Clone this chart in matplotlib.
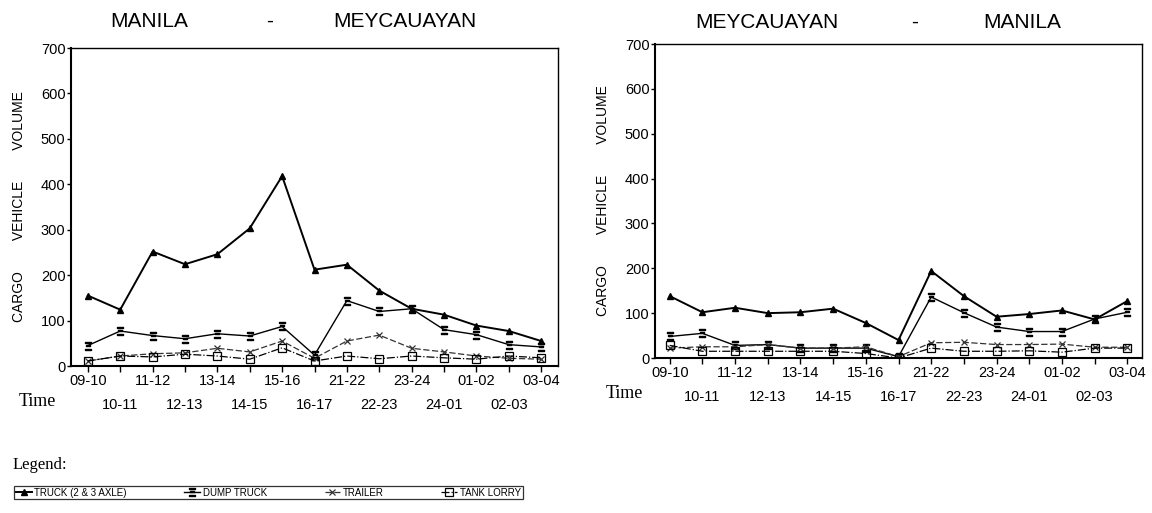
import matplotlib
matplotlib.use("Agg")
import matplotlib.pyplot as plt
from matplotlib.lines import Line2D
import numpy as np

# time periods (hour pairs)
periods = ["09-10", "10-11", "11-12", "12-13", "13-14", "14-15", "15-16", "16-17",
           "21-22", "22-23", "23-24", "24-01", "01-02", "02-03", "03-04"]

# Manila -> Meycauayan
mm_truck = [155, 124, 252, 224, 246, 303, 418, 212, 223, 166, 126, 113, 89, 77, 55]
mm_dump = [45, 77, 67, 60, 71, 66, 87, 24, 144, 120, 126, 80, 69, 47, 42]
mm_trailer = [11, 22, 27, 29, 39, 31, 55, 17, 55, 68, 39, 31, 22, 17, 15]
mm_tank = [11, 22, 20, 26, 22, 15, 40, 11, 22, 16, 22, 18, 15, 22, 18]

# Meycauayan -> Manila
ym_truck = [138, 102, 112, 100, 102, 110, 78, 40, 194, 138, 92, 98, 106, 86, 127]
ym_dump = [48, 55, 28, 30, 22, 22, 22, 3, 136, 101, 69, 59, 59, 87, 102]
ym_trailer = [22, 25, 25, 30, 22, 22, 25, 3, 34, 35, 30, 30, 31, 24, 24]
ym_tank = [28, 15, 15, 15, 15, 15, 10, 0, 22, 15, 15, 16, 13, 22, 22]

legend_labels = ["TRUCK (2 & 3 AXLE)", "DUMP TRUCK", "TRAILER", "TANK LORRY"]

W, H = 1152, 513
SANS = "Liberation Sans"
SERIF = "Liberation Serif"

styles = [
    dict(color="black", lw=1.4, ls="-", marker="^", ms=4, mfc="black"),
    dict(color="black", lw=1.0, ls="-", marker=r"$\Xi$", ms=6, mfc="black"),
    dict(color="#333333", lw=0.9, ls=(0, (5, 2)), marker="x", ms=4, mfc="none", mew=0.9),
    dict(color="black", lw=0.9, ls="-.", marker="s", ms=6, mfc="none", mew=0.9),
]

fig = plt.figure(figsize=(W / 100, H / 100), dpi=100)


def px_axes(x0, y0, x1, y1):
    return fig.add_axes([x0 / W, 1 - y1 / H, (x1 - x0) / W, (y1 - y0) / H])


def draw_panel(ax, series, xpad):
    x = np.arange(len(periods))
    for vals, st in zip(series, styles):
        ax.plot(x, vals, **st)
    ax.set_xlim(-xpad, len(periods) - 1 + xpad)
    ax.set_ylim(0, 700)
    ax.set_yticks(range(0, 701, 100))
    # two rows of tick labels: even periods on top, odd ones below
    ax.set_xticks(x[::2])
    ax.set_xticklabels(periods[::2])
    ax.set_xticks(x[1::2], minor=True)
    ax.set_xticklabels(periods[1::2], minor=True)
    ax.tick_params(axis="x", which="major", length=4, width=1, pad=2, labelsize=10.5)
    ax.tick_params(axis="x", which="minor", length=4, width=1, pad=19, labelsize=10.5)
    ax.tick_params(axis="y", length=3, width=1, pad=1, labelsize=10.5)
    for lab in ax.get_xticklabels(which="both") + ax.get_yticklabels():
        lab.set_fontfamily(SANS)
    for sp in ax.spines.values():
        sp.set_linewidth(1.0)
    ax.spines["left"].set_linewidth(1.5)
    ax.spines["bottom"].set_linewidth(1.5)
    ax.set_ylabel("CARGO        VEHICLE        VOLUME", fontfamily=SANS,
                  fontsize=10, labelpad=11)


ax1 = px_axes(71, 48, 558, 366)
draw_panel(ax1, [mm_truck, mm_dump, mm_trailer, mm_tank], 0.52)
ax2 = px_axes(655, 44, 1142, 358)
draw_panel(ax2, [ym_truck, ym_dump, ym_trailer, ym_tank], 0.45)


def ftext(x, y, s, **kw):
    fig.text(x / W, 1 - y / H, s, **kw)


# titles
tkw = dict(fontfamily=SANS, fontsize=15, va="baseline")
ftext(110, 27, "MANILA", ha="left", **tkw)
ftext(270, 27, "-", ha="center", **tkw)
ftext(333, 27, "MEYCAUAYAN", ha="left", **tkw)
ftext(695, 28, "MEYCAUAYAN", ha="left", **tkw)
ftext(915, 28, "-", ha="center", **tkw)
ftext(983, 28, "MANILA", ha="left", **tkw)

# "Time" labels
ftext(37, 401, "Time", ha="center", va="center", fontfamily=SERIF, fontsize=13)
ftext(624, 393, "Time", ha="center", va="center", fontfamily=SERIF, fontsize=13)

# legend
ftext(13, 465, "Legend:", ha="left", va="center", fontfamily=SERIF, fontsize=12)
handles = [Line2D([], [], **st) for st in styles]
leg = fig.legend(handles, legend_labels, loc="center left", ncol=4, mode="expand",
                 bbox_to_anchor=(14 / W, 1 - 501 / H, (523 - 14) / W, 17 / H),
                 frameon=True, fancybox=False, edgecolor="black", borderpad=0.2,
                 handlelength=1.6, handletextpad=0.3,
                 prop=dict(family=SANS, size=7), borderaxespad=0)
leg.get_frame().set_linewidth(0.9)

fig.savefig("out.png", dpi=100)
